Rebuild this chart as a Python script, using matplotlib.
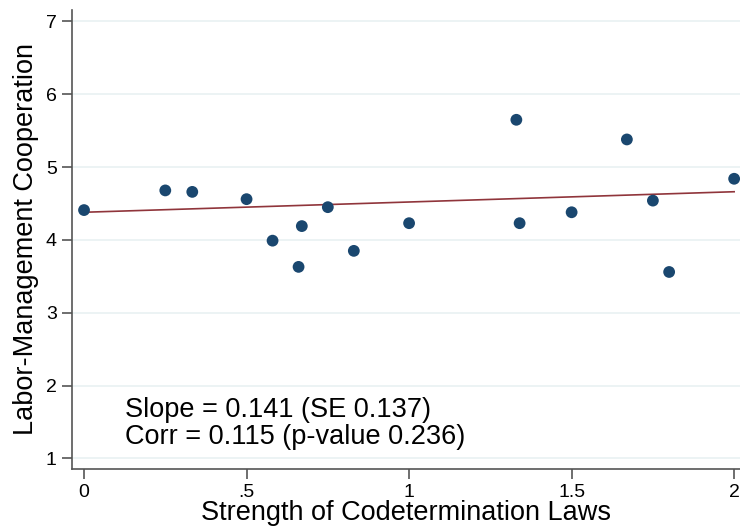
import numpy as np
from matplotlib import pyplot as plt

# codetermination strength vs. cooperation score
strength = [0, 0.25, 0.333, 0.5, 0.58, 0.66, 0.67, 0.75, 0.83, 1.0,
            1.33, 1.34, 1.5, 1.67, 1.75, 1.8, 2.0]
cooperation = [4.41, 4.68, 4.66, 4.56, 3.99, 3.63, 4.19, 4.45, 3.85, 4.23,
               5.65, 4.23, 4.38, 5.38, 4.54, 3.56, 4.84]

# fitted line as drawn in the original
fit_intercept = 4.38
fit_slope = 0.141

x_ticks = [0, 0.5, 1, 1.5, 2]
x_tick_labels = ["0", ".5", "1", "1.5", "2"]
y_ticks = [1, 2, 3, 4, 5, 6, 7]

plt.rcParams['font.family'] = ['Liberation Sans', 'DejaVu Sans']

fig = plt.figure(figsize=(7.4, 5.29), dpi=100)
ax = fig.add_axes([0.0973, 0.1134, 0.9027, 0.868])

xs = np.array([min(strength), max(strength)])
ax.plot(xs, fit_intercept + fit_slope * xs, color='#90353b', lw=1.2, zorder=2)

ax.scatter(strength, cooperation, s=72, color='#1a476f', edgecolors='none', zorder=3)

ax.set_xlim(-0.037, 2.018)
ax.set_ylim(0.854, 7.16)
ax.set_xticks(x_ticks)
ax.set_xticklabels(x_tick_labels)
ax.set_yticks(y_ticks)
ax.yaxis.grid(True, color='#eaf2f3', lw=1.3)
ax.set_axisbelow(True)

for side in ['top', 'right']:
    ax.spines[side].set_visible(False)
for side in ['left', 'bottom']:
    ax.spines[side].set_color('#555555')
    ax.spines[side].set_linewidth(1.2)
ax.tick_params(axis='both', direction='out', length=7, width=1.2, color='#555555',
               labelsize=14, pad=4)

ax.set_xlabel("Strength of Codetermination Laws", fontsize=19.5, labelpad=-1)
ax.set_ylabel("Labor-Management Cooperation", fontsize=19.5, labelpad=5)

ax.text(0.126, 1.66, "Slope = 0.141 (SE 0.137)", fontsize=19.5, va='center', ha='left')
ax.text(0.126, 1.30, "Corr = 0.115 (p-value 0.236)", fontsize=19.5, va='center', ha='left')

fig.savefig('out.png', dpi=100)
